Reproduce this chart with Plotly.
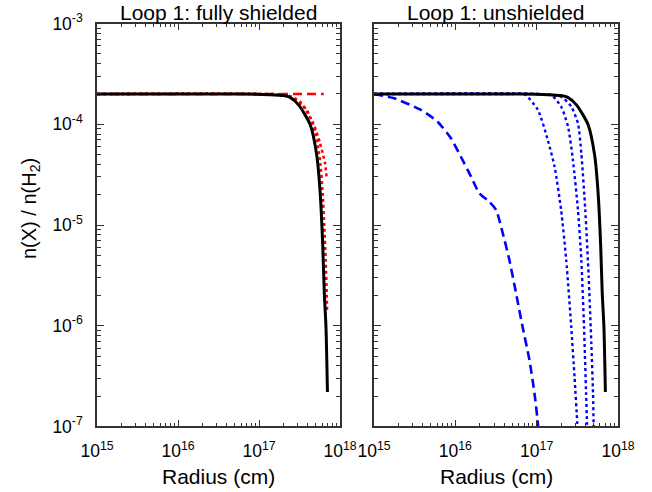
import plotly.graph_objects as go

# ---------------- data ----------------
# Black solid: total abundance (same curve in both panels)
black_r = [1e15, 1e16, 6.3e16, 1.37e17, 2.0e17, 2.42e17, 3.1e17, 4.27e17, 5.15e17, 5.69e17, 6.12e17, 6.4e17, 6.71e17, 7.0e17]
black_y = [2.0e-4, 2.0e-4, 2.0e-4, 1.97e-4, 1.93e-4, 1.85e-4, 1.55e-4, 1.0e-4, 5.0e-5, 2.1e-5, 6.3e-6, 2.1e-6, 9.8e-7, 2.2e-7]

# Left panel, red dashed (flat)
red_dash_r = [1e15, 6.3e17]
red_dash_y = [2.0e-4, 2.0e-4]

# Left panel, red dotted (two curves)
red_dot1_r = [1e15, 1e17, 2.2e17, 3.2e17, 4.68e17, 5.66e17, 6.53e17, 6.85e17]
red_dot1_y = [2.0e-4, 2.0e-4, 1.95e-4, 1.68e-4, 1.02e-4, 6.5e-5, 4.1e-5, 2.9e-5]
red_dot2_r = [1e15, 1e17, 2.4e17, 3.88e17, 4.91e17, 5.66e17, 6.11e17, 6.4e17, 6.65e17, 6.85e17, 6.92e17]
red_dot2_y = [2.0e-4, 2.0e-4, 1.9e-4, 1.39e-4, 8.45e-5, 4.4e-5, 2.07e-5, 9.6e-6, 4.5e-6, 2.1e-6, 1.43e-6]

# Right panel, blue dashed
blue_dash_r = [1e15, 1.77e15, 3.77e15, 6.05e15, 8.83e15, 1.17e16, 1.56e16, 1.97e16, 2.62e16, 3.17e16, 3.83e16, 4.62e16, 5.58e16, 6.7e16, 8.15e16, 9.4e16, 1.035e17, 1.07e17]
blue_dash_y = [2.0e-4, 1.81e-4, 1.39e-4, 1.06e-4, 7.26e-5, 4.76e-5, 3.02e-5, 2.07e-5, 1.7e-5, 1.41e-5, 8.28e-6, 4.49e-6, 2.1e-6, 9.8e-7, 4.56e-7, 2.13e-7, 1.07e-7, 6.5e-8]

# Right panel, blue dotted (three curves)
blue_dot1_r = [1e15, 5e16, 7.08e16, 1.035e17, 1.37e17, 1.66e17, 2.0e17, 2.31e17, 2.66e17, 2.92e17, 3.16e17, 3.3e17]
blue_dot1_y = [2.0e-4, 2.0e-4, 1.99e-4, 1.39e-4, 6.98e-5, 3.79e-5, 1.4e-5, 4.49e-6, 9.8e-7, 3.11e-7, 1.07e-7, 6.0e-8]
blue_dot2_r = [1e15, 1e17, 1.51e17, 2.0e17, 2.43e17, 2.79e17, 3.22e17, 3.54e17, 3.82e17, 4.05e17, 4.16e17, 4.25e17]
blue_dot2_y = [2.0e-4, 2.0e-4, 1.95e-4, 1.5e-4, 9.46e-5, 4.43e-5, 1.41e-5, 4.49e-6, 9.8e-7, 2.13e-7, 1.07e-7, 6.0e-8]
blue_dot3_r = [1e15, 1e17, 2.0e17, 2.66e17, 3.22e17, 3.54e17, 3.96e17, 4.36e17, 4.7e17, 4.93e17, 5.01e17, 5.08e17]
blue_dot3_y = [2.0e-4, 2.0e-4, 1.88e-4, 1.5e-4, 1.02e-4, 5.15e-5, 1.41e-5, 3.07e-6, 6.68e-7, 2.13e-7, 1.07e-7, 6.0e-8]

x_tickvals = [1e15, 1e16, 1e17, 1e18]
x_ticktext = ["10<sup>15</sup>", "10<sup>16</sup>", "10<sup>17</sup>", "10<sup>18</sup>"]
y_tickvals = [1e-7, 1e-6, 1e-5, 1e-4, 1e-3]
y_ticktext = ["10<sup>-7</sup>", "10<sup>-6</sup>", "10<sup>-5</sup>", "10<sup>-4</sup>", "10<sup>-3</sup>"]

panel_titles = ["Loop 1: fully shielded", "Loop 1: unshielded"]
x_title = "Radius (cm)"
y_title = "n(X) / n(H<sub>2</sub>)"

# ---------------- figure ----------------
W, H = 652, 492
FONT = "Liberation Sans, Arial, sans-serif"
RED = "#ff0000"
BLUE = "#0000ff"
AX = "#333333"

x_minor = [m * 10.0 ** k for k in range(15, 18) for m in range(2, 10)]
y_minor = [m * 10.0 ** k for k in range(-7, -3) for m in range(2, 10)]

fig = go.Figure()

def add(x, y, color, dash, width, xa, ya):
    fig.add_trace(go.Scatter(x=x, y=y, mode="lines", xaxis=xa, yaxis=ya,
                             line=dict(color=color, dash=dash, width=width, shape="spline", smoothing=0.6),
                             showlegend=False, hoverinfo="skip"))

# left panel
add(red_dash_r, red_dash_y, RED, "9px,5px", 2.6, "x", "y")
add(red_dot1_r, red_dot1_y, RED, "dot", 2.6, "x", "y")
add(red_dot2_r, red_dot2_y, RED, "dot", 2.6, "x", "y")
add(black_r, black_y, "black", "solid", 3, "x", "y")
# right panel
add(blue_dash_r, blue_dash_y, BLUE, "9px,5px", 2.6, "x2", "y2")
add(blue_dot1_r, blue_dot1_y, BLUE, "dot", 2.4, "x2", "y2")
add(blue_dot2_r, blue_dot2_y, BLUE, "dot", 2.4, "x2", "y2")
add(blue_dot3_r, blue_dot3_y, BLUE, "dot", 2.4, "x2", "y2")
add(black_r, black_y, "black", "solid", 3, "x2", "y2")

left_dom = [97 / W, 340 / W]
right_dom = [374 / W, 618 / W]
y_dom = [1 - 426.4 / H, 1 - 23.6 / H]

axis_common = dict(type="log", showgrid=False, zeroline=False, showline=True, automargin=False,
                   linecolor=AX, linewidth=1.5, mirror="allticks",
                   ticks="inside", ticklen=7, tickwidth=1, tickcolor=AX,
                   tickfont=dict(family=FONT, size=17.5, color="black"))

xa = dict(axis_common, range=[15, 18], tickmode="array", tickvals=x_tickvals, ticktext=x_ticktext,
          ticklabelstandoff=8,
          minor=dict(tickmode="array", tickvals=x_minor, ticks="inside", ticklen=4, tickwidth=1, tickcolor=AX))
ya = dict(axis_common, range=[-7, -3], tickmode="array", tickvals=y_tickvals, ticktext=y_ticktext,
          ticklabelstandoff=9,
          minor=dict(tickmode="array", tickvals=y_minor, ticks="inside", ticklen=4, tickwidth=1, tickcolor=AX))

fig.update_layout(
    width=W, height=H,
    margin=dict(l=0, r=0, t=0, b=0),
    paper_bgcolor="white", plot_bgcolor="white",
    font=dict(family=FONT, color="black"),
    xaxis=dict(xa, domain=left_dom, anchor="y"),
    xaxis2=dict(xa, domain=right_dom, anchor="y2"),
    yaxis=dict(ya, domain=y_dom, anchor="x"),
    yaxis2=dict(ya, domain=y_dom, anchor="x2", showticklabels=False),
)

annotations = []
for dom, t in zip([left_dom, right_dom], panel_titles):
    cx = (dom[0] + dom[1]) / 2
    annotations.append(dict(text=t, x=cx, y=1 - 12 / H, xref="paper", yref="paper",
                            showarrow=False, xanchor="center", yanchor="middle",
                            font=dict(family=FONT, size=21, color="black")))
    annotations.append(dict(text=x_title, x=cx, y=1 - 476 / H, xref="paper", yref="paper",
                            showarrow=False, xanchor="center", yanchor="middle",
                            font=dict(family=FONT, size=21, color="black")))
annotations.append(dict(text=y_title, x=30 / W, y=1 - 209 / H, xref="paper", yref="paper",
                        showarrow=False, xanchor="center", yanchor="middle", textangle=-90,
                        font=dict(family=FONT, size=20, color="black")))
fig.update_layout(annotations=annotations)

# remove the default page margin so the figure sits at the window's top-left corner
fig.write_html("out.html", config={"displayModeBar": False},
               post_script="document.body.style.margin='0';")
